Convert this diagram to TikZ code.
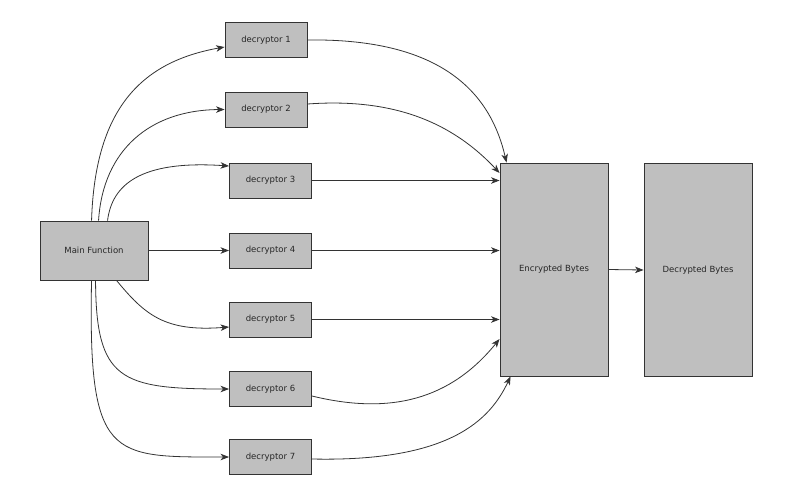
\documentclass[tikz,border=0pt]{standalone}
\usepackage{fontspec}
\setmainfont{DejaVu Sans}
\usetikzlibrary{arrows.meta}
\definecolor{boxgray}{HTML}{BFBFBF}
\definecolor{edgegray}{HTML}{333333}
\tikzset{
  box/.style={draw=edgegray, fill=boxgray, line width=0.9pt, rectangle, inner sep=0pt,
    font=\fontsize{8.5}{10}\selectfont, text=black!85},
  dbox/.style={box, minimum width=82pt, minimum height=35pt},
  bigbox/.style={box, minimum width=108pt, minimum height=213pt},
  conn/.style={draw=edgegray, line width=0.8pt, -{Stealth[length=8.5pt,width=6.5pt,inset=2.4pt]}}
}
\begin{document}
\begin{tikzpicture}[x=1pt,y=-1pt]
\useasboundingbox (0,0) rectangle (803,491);
\node[box, minimum width=108pt, minimum height=59pt] (main) at (94,250.5) {Main Function};
\node[dbox] (d1) at (266,40) {decryptor 1};
\node[dbox] (d2) at (266,109.5) {decryptor 2};
\node[dbox] (d3) at (270.5,180.5) {decryptor 3};
\node[dbox] (d4) at (270.5,250.5) {decryptor 4};
\node[dbox] (d5) at (270.5,319.5) {decryptor 5};
\node[dbox] (d6) at (270.5,389) {decryptor 6};
\node[dbox] (d7) at (270.5,457) {decryptor 7};
\node[bigbox] (enc) at (554,269.5) {Encrypted Bytes};
\node[bigbox] (dec) at (698,270) {Decrypted Bytes};
% anchor points
\coordinate (m1) at ([xshift=52pt]main.north west);
\coordinate (m2) at ([xshift=59pt]main.north west);
\coordinate (m3) at ([xshift=68pt]main.north west);
\coordinate (m5) at ([xshift=77pt]main.south west);
\coordinate (m6) at ([xshift=56pt]main.south west);
\coordinate (m7) at ([xshift=52pt]main.south west);
\coordinate (e1) at ([xshift=7pt]enc.north west);
\coordinate (e7) at ([xshift=11pt]enc.south west);
% main to decryptors
\draw[conn] (m1) .. controls (95,110) and (140,62) .. (d1.west |- 0,47);
\draw[conn] (m2) .. controls (103,150) and (150,110) .. (d2.west);
\draw[conn] (m3) .. controls (112,185) and (140,160) .. (d3.west |- 0,166);
\draw[conn] (main.east) -- (d4.west);
\draw[conn] (m5) .. controls (145,315) and (165,332) .. (d5.west |- 0,327);
\draw[conn] (m6) .. controls (96,380) and (120,389) .. (d6.west);
\draw[conn] (m7) .. controls (88,460) and (110,457) .. (d7.west);
% decryptors to encrypted
\draw[conn] (d1.east) .. controls (450,38) and (492,100) .. (e1);
\draw[conn] (d2.east |- 0,104) .. controls (390,98) and (450,120) .. (enc.west |- 0,173);
\draw[conn] (d3.east) -- (enc.west |- d3.east);
\draw[conn] (d4.east) -- (enc.west |- d4.east);
\draw[conn] (d5.east) -- (enc.west |- d5.east);
\draw[conn] (d6.east |- 0,396) .. controls (390,415) and (450,400) .. (enc.west |- 0,339);
\draw[conn] (d7.east |- 0,459) .. controls (450,462) and (490,420) .. (e7);
% encrypted to decrypted
\draw[conn] (enc.east) -- (dec.west);
\end{tikzpicture}
\end{document}
